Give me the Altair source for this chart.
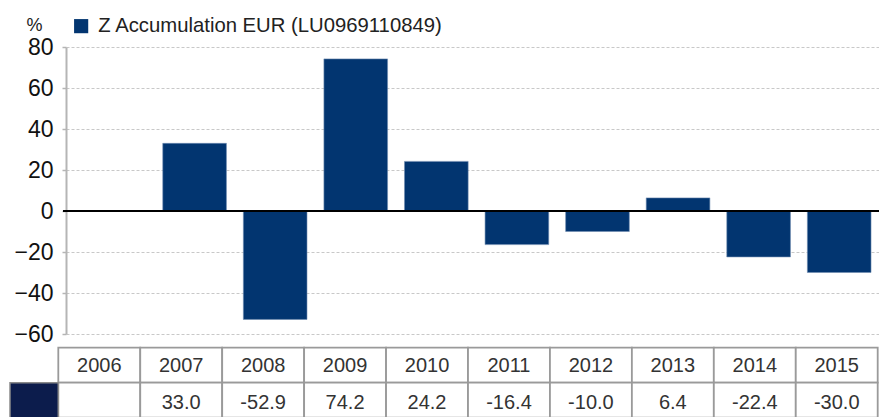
import altair as alt
import pandas as pd

# ---- data ----
years = ["2006", "2007", "2008", "2009", "2010", "2011", "2012", "2013", "2014", "2015"]
returns = [None, 33.0, -52.9, 74.2, 24.2, -16.4, -10.0, 6.4, -22.4, -30.0]
series_name = "Z Accumulation EUR (LU0969110849)"
y_ticks = [-60, -40, -20, 0, 20, 40, 60, 80]
table_rows = ["year", "value"]

FONT = "Liberation Sans"
BAR = "#023570"
SWATCH = "#0c1c4c"

bars_df = pd.DataFrame({"year": years, "value": returns, "series": series_name}).dropna()

value_labels = ["" if v is None else f"{v:.1f}" for v in returns]
head_df = pd.DataFrame({"year": years, "row": "year", "label": years})
val_df = pd.DataFrame({"year": years, "row": "value", "label": value_labels})
cells_df = pd.concat([head_df, val_df], ignore_index=True)
swatch_df = pd.DataFrame({"row": ["value"]})

# ---- bar part ----
x_bar = alt.X("year:N", scale=alt.Scale(domain=years, paddingInner=0.21,
                                        paddingOuter=0.15, align=0.67), axis=None)
y_bar = alt.Y(
    "value:Q",
    scale=alt.Scale(domain=[-60, 80], range=[287, 0], nice=False, zero=False),
    axis=alt.Axis(
        values=y_ticks, title="%", titleAngle=0, titleX=-32, titleY=-17,
        titleAlign="center", titleBaseline="alphabetic", titleFontSize=18,
        titleFontWeight="normal", titleFont=FONT, titleColor="#222",
        labelFont=FONT, labelFontSize=23, labelColor="#111", labelPadding=9,
        tickSize=4, tickColor="#b5b5b5", tickWidth=1.5,
        domainColor="#b5b5b5", domainWidth=2,
        grid=True, gridColor="#c8c8c8", gridDash=[3, 2], gridWidth=1,
    ),
)

bars = alt.Chart(bars_df).mark_bar(stroke="#6f8bb0", strokeWidth=0.6).encode(
    x=x_bar,
    y=y_bar,
    color=alt.Color(
        "series:N",
        scale=alt.Scale(range=[BAR]),
        legend=alt.Legend(
            orient="none", legendX=5, legendY=-31, title=None,
            symbolType="square", symbolSize=200, symbolStrokeWidth=0,
            labelFont=FONT, labelFontSize=20.3, labelColor="#222",
            labelOffset=7, padding=0, labelLimit=0,
        ),
    ),
)

zero_line = alt.Chart(bars_df).mark_rule(color="black", strokeWidth=1.5).encode(
    y=alt.datum(0), x=alt.value(-3), x2=alt.value(813)
)

plot_part = alt.layer(bars, zero_line)

# ---- table part ----
x_tab = alt.X("year:N", scale=alt.Scale(domain=years, range=[-7.7, 811.7],
                                        paddingInner=0, paddingOuter=0), axis=None)
y_tab = alt.Y("row:N", scale=alt.Scale(domain=table_rows, range=[300.7, 370.7],
                                       paddingInner=0, paddingOuter=0), axis=None)

cells = alt.Chart(cells_df).mark_rect(fill="white", stroke="#9a9a9a", strokeWidth=1.8).encode(
    x=x_tab, y=y_tab
)
head_text = alt.Chart(head_df).mark_text(font=FONT, fontSize=20, color="#333",
                                         baseline="middle", dy=1).encode(
    x=x_tab, y=y_tab, text="label:N"
)
val_text = alt.Chart(val_df).mark_text(font=FONT, fontSize=20, color="#333",
                                       baseline="middle", dy=3).encode(
    x=x_tab, y=y_tab, text="label:N"
)
swatch = alt.Chart(swatch_df).mark_rect(fill=SWATCH, stroke="#8a8a8a", strokeWidth=1.5).encode(
    x=alt.value(-56), x2=alt.value(-7.7), y=y_tab
)

table_part = alt.layer(cells, head_text, val_text, swatch)

chart = (
    alt.layer(plot_part, table_part)
    .resolve_scale(x="independent", y="independent")
    .properties(
        width=813, height=370,
        autosize=alt.AutoSizeParams(type="none"),
        padding={"left": 66, "top": 47, "right": 0, "bottom": 0},
        background="white",
    )
    .configure_view(stroke=None)
)

chart.save("out.html", embed_options={"renderer": "svg", "actions": False})
